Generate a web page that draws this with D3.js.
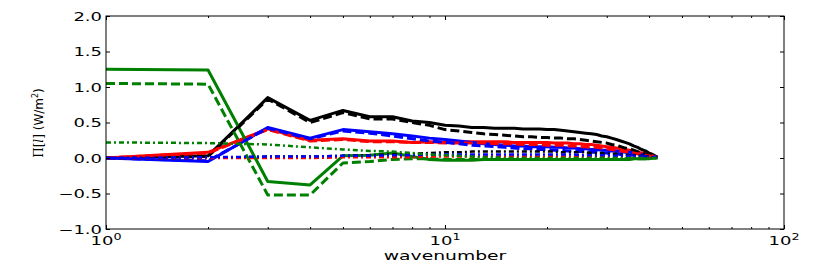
<!DOCTYPE html>
<html>
<head>
<meta charset="utf-8">
<script src="https://cdn.jsdelivr.net/npm/d3@7"></script>
<style>
  body { margin: 0; background: #fff; }
  text { font-family: "DejaVu Sans", sans-serif; fill: #000; }
</style>
</head>
<body>
<div class="container"></div>
<script>
/********** the Data **********/
let wavenumbers = [1,2,3,4,5,6,7,8,9,10,11,12,13,14,15,16,17,18,19,20,21,22,23,24,25,26,27,28,29,30,31,32,33,34,35,36,37,38,39,40,41,42];

let blackSolid = [0.00,0.03,0.85,0.53,0.67,0.58,0.58,0.52,0.50,0.46, 0.45,0.43,0.43,0.42,0.42,0.42,0.41,0.41,0.41,0.40, 0.40,0.39,0.38,0.37,0.36,0.35,0.34,0.33,0.31,0.30, 0.28,0.26,0.24,0.22,0.20,0.17,0.15,0.12,0.10,0.07,0.05,0.02];
let redSolid   = [0.00,0.08,0.41,0.25,0.27,0.24,0.24,0.22,0.23,0.22, 0.23,0.23,0.23,0.23,0.23,0.22,0.22,0.22,0.22,0.22, 0.21,0.21,0.21,0.20,0.20,0.19,0.19,0.18,0.17,0.16, 0.15,0.14,0.13,0.12,0.11,0.10,0.08,0.07,0.06,0.04,0.03,0.02];
let blueSolid  = [0.00,-0.05,0.43,0.28,0.40,0.37,0.34,0.31,0.28,0.26, 0.24,0.22,0.20,0.19,0.18,0.17,0.17,0.16,0.16,0.16, 0.15,0.15,0.14,0.14,0.13,0.13,0.12,0.12,0.11,0.11, 0.10,0.10,0.09,0.08,0.08,0.07,0.06,0.05,0.04,0.03,0.02,0.01];
let greenSolid = [1.25,1.24,-0.33,-0.38,0.03,0.04,0.07,0.02,-0.02,-0.03, -0.03,-0.03,-0.02,-0.02,-0.02,-0.02,-0.02,-0.02,-0.02,-0.02, -0.02,-0.02,-0.02,-0.02,-0.02,-0.02,-0.02,-0.02,-0.02,-0.02, -0.02,-0.02,-0.02,-0.02,-0.02,-0.01,-0.01,-0.01,-0.01,-0.01,0.00,0.00];

let blackDashed = [0.00,0.02,0.83,0.50,0.64,0.55,0.55,0.50,0.46,0.40, 0.38,0.36,0.34,0.33,0.32,0.31,0.30,0.30,0.29,0.29, 0.28,0.28,0.27,0.27,0.26,0.25,0.24,0.23,0.22,0.21, 0.19,0.18,0.16,0.14,0.13,0.11,0.09,0.07,0.06,0.04,0.03,0.02];
let redDashed   = [0.00,0.07,0.40,0.24,0.26,0.23,0.23,0.22,0.22,0.21, 0.21,0.21,0.21,0.20,0.20,0.20,0.19,0.19,0.19,0.18, 0.18,0.18,0.17,0.17,0.16,0.16,0.15,0.15,0.14,0.13, 0.12,0.11,0.10,0.09,0.08,0.07,0.06,0.05,0.04,0.03,0.02,0.01];
let blueDashed  = [0.00,-0.04,0.42,0.27,0.38,0.35,0.31,0.27,0.24,0.22, 0.20,0.18,0.17,0.16,0.15,0.14,0.13,0.13,0.12,0.12, 0.11,0.11,0.10,0.10,0.09,0.09,0.08,0.08,0.07,0.07, 0.06,0.06,0.05,0.05,0.04,0.04,0.03,0.03,0.02,0.02,0.01,0.01];
let greenDashed = [1.05,1.04,-0.52,-0.52,-0.07,-0.05,-0.02,-0.01,-0.01,-0.02, -0.02,-0.02,-0.02,-0.02,-0.02,-0.02,-0.02,-0.02,-0.02,-0.02, -0.02,-0.02,-0.02,-0.02,-0.02,-0.02,-0.02,-0.02,-0.02,-0.02, -0.02,-0.02,-0.02,-0.01,-0.01,-0.01,-0.01,-0.01,-0.01,0.00,0.00,0.00];

let blackDashDot = [0.00,0.00,0.02,0.02,0.03,0.04,0.05,0.06,0.07,0.08, 0.08,0.09,0.09,0.09,0.09,0.09,0.09,0.09,0.09,0.09, 0.09,0.08,0.08,0.08,0.08,0.08,0.07,0.07,0.07,0.06, 0.06,0.06,0.05,0.05,0.04,0.04,0.03,0.03,0.02,0.02,0.01,0.01];
let redDashDot   = [0.00,0.00,0.00,0.00,0.01,0.01,0.01,0.01,0.02,0.02, 0.02,0.02,0.02,0.02,0.02,0.02,0.02,0.02,0.02,0.02, 0.02,0.02,0.02,0.02,0.02,0.02,0.02,0.02,0.02,0.02, 0.02,0.02,0.02,0.01,0.01,0.01,0.01,0.01,0.01,0.01,0.01,0.00];
let blueDashDot  = [0.00,0.01,0.02,0.02,0.03,0.03,0.04,0.04,0.05,0.05, 0.05,0.05,0.05,0.05,0.05,0.05,0.05,0.05,0.05,0.05, 0.05,0.05,0.05,0.05,0.04,0.04,0.04,0.04,0.04,0.04, 0.03,0.03,0.03,0.03,0.03,0.02,0.02,0.02,0.02,0.01,0.01,0.01];
let greenDashDot = [0.22,0.21,0.19,0.15,0.12,0.10,0.09,0.07,0.05,0.04, 0.03,0.02,0.01,0.01,0.00,0.00,0.00,0.00,0.00,0.00, 0.00,0.00,0.00,0.00,0.00,0.00,0.00,0.00,0.00,0.00, 0.00,0.00,0.00,0.00,0.00,0.00,0.00,0.00,0.00,0.00,0.00,0.00];

let yTicks = [-1.0,-0.5,0.0,0.5,1.0,1.5,2.0];
let xMajorTicks = [1,10,100];
let xMinorTicks = [2,3,4,5,6,7,8,9,20,30,40,50,60,70,80,90];

// draw order: solids, then dashed, then dash-dot (like the original)
let seriesList = [
  {values: blackSolid, color: "#000000", style: "solid"},
  {values: redSolid, color: "#ff0000", style: "solid"},
  {values: blueSolid, color: "#0000ff", style: "solid"},
  {values: greenSolid, color: "#008000", style: "solid"},
  {values: blackDashed, color: "#000000", style: "dashed"},
  {values: redDashed, color: "#ff0000", style: "dashed"},
  {values: blueDashed, color: "#0000ff", style: "dashed"},
  {values: greenDashed, color: "#008000", style: "dashed"},
  {values: blackDashDot, color: "#000000", style: "dashdot"},
  {values: redDashDot, color: "#ff0000", style: "dashdot"},
  {values: blueDashDot, color: "#0000ff", style: "dashdot"},
  {values: greenDashDot, color: "#008000", style: "dashdot"}
];

/***** Chart dimensions *****/
let width = 830, height = 273;
let margin = {top: 16, right: 46, bottom: 44, left: 106};
let plotW = width - margin.left - margin.right;
let plotH = height - margin.top - margin.bottom;
let sx = 1.5; // text in the original is stretched horizontally

let xScale = d3.scaleLog().domain([1, 100]).range([margin.left, margin.left + plotW]);
let yScale = d3.scaleLinear().domain([-1, 2]).range([margin.top + plotH, margin.top]);

let svg = d3.select(".container").append("svg")
  .attr("width", width)
  .attr("height", height);

svg.append("clipPath").attr("id", "plot-clip")
  .append("rect")
    .attr("x", margin.left).attr("y", margin.top)
    .attr("width", plotW).attr("height", plotH);

/***** lines *****/
let line = d3.line()
  .x((d, i) => xScale(wavenumbers[i]))
  .y(d => yScale(d));

let dashes = {solid: null, dashed: "9,4", dashdot: "5,3,2,3"};

svg.append("g").attr("clip-path", "url(#plot-clip)")
  .selectAll("path")
  .data(seriesList)
  .join("path")
    .attr("d", d => line(d.values))
    .attr("fill", "none")
    .attr("stroke", d => d.color)
    .attr("stroke-width", d => d.style === "dashdot" ? 2.5 : 3)
    .attr("stroke-dasharray", d => dashes[d.style])
    .attr("stroke-linejoin", "round")
    .attr("stroke-linecap", d => d.style === "solid" ? "square" : "butt");

/***** axes (ticks pointing inward) *****/
function addAxis(axis, tx, ty) {
  let g = svg.append("g").attr("transform", `translate(${tx}, ${ty})`).call(axis);
  g.select(".domain").remove();
  g.selectAll(".tick line").attr("stroke", "#000").attr("stroke-width", 1);
  g.selectAll(".tick text").remove();
}

addAxis(d3.axisBottom(xScale).tickValues(xMajorTicks).tickSize(-4), 0, margin.top + plotH);
addAxis(d3.axisBottom(xScale).tickValues(xMinorTicks).tickSize(-2), 0, margin.top + plotH);
addAxis(d3.axisTop(xScale).tickValues(xMajorTicks).tickSize(-4), 0, margin.top);
addAxis(d3.axisTop(xScale).tickValues(xMinorTicks).tickSize(-2), 0, margin.top);
addAxis(d3.axisLeft(yScale).tickValues(yTicks).tickSize(-4), margin.left, 0);
addAxis(d3.axisRight(yScale).tickValues(yTicks).tickSize(-4), margin.left + plotW, 0);

// frame
svg.append("rect")
  .attr("x", margin.left).attr("y", margin.top)
  .attr("width", plotW).attr("height", plotH)
  .attr("fill", "none").attr("stroke", "#000").attr("stroke-width", 1);

/***** tick labels *****/
let fmt = d3.format(".1f");
svg.append("g").selectAll("text")
  .data(yTicks)
  .join("text")
    .attr("transform", d => `translate(${margin.left - 4}, ${yScale(d) + 4.5}) scale(${sx}, 1)`)
    .attr("text-anchor", "end")
    .style("font-size", "12px")
    .text(d => fmt(d).replace("-", "\u2212"));

let xl = svg.append("g").selectAll("text")
  .data(xMajorTicks)
  .join("text")
    .attr("transform", d => `translate(${xScale(d)}, ${margin.top + plotH + 16}) scale(${sx}, 1)`)
    .attr("text-anchor", "middle")
    .style("font-size", "12px");
xl.append("tspan").text("10");
xl.append("tspan").attr("dy", -5).style("font-size", "8.5px").text(d => Math.round(Math.log10(d)));

// axis titles
svg.append("text")
  .attr("transform", `translate(${margin.left + plotW / 2}, 260) scale(${sx}, 1)`)
  .attr("text-anchor", "middle")
  .style("font-size", "12.5px")
  .text("wavenumber");

let yl = svg.append("text")
  .attr("transform", "translate(43, 123) rotate(-90)")
  .attr("text-anchor", "middle")
  .style("font-size", "12px");
yl.append("tspan").style("font-family", "DejaVu Serif").text("\u03A0[");
yl.append("tspan").style("font-family", "DejaVu Serif").style("font-style", "italic").text("l");
yl.append("tspan").style("font-family", "DejaVu Serif").text("]");
yl.append("tspan").text(" (W/m");
yl.append("tspan").attr("dy", -5).style("font-size", "8px").text("2");
yl.append("tspan").attr("dy", 5).text(")");
</script>
</body>
</html>
